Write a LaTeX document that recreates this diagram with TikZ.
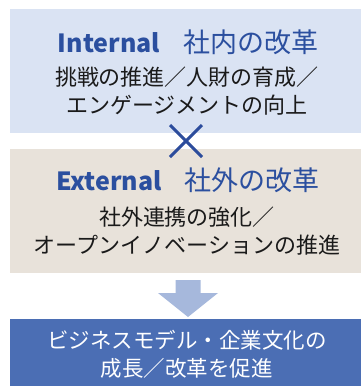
\documentclass[tikz,border=0pt]{standalone}
\usepackage{fontspec}
\usetikzlibrary{calc}
\setmainfont{Noto Sans CJK JP}
\newfontfamily\jpfont{Noto Sans CJK JP}
\definecolor{boxA}{HTML}{DAE3F3}
\definecolor{boxB}{HTML}{E8E2DA}
\definecolor{boxC}{HTML}{4B6EB4}
\definecolor{headblue}{HTML}{2B4F9F}
\definecolor{crossblue}{HTML}{2C4C9C}
\definecolor{arrowblue}{HTML}{A6B8DC}
\definecolor{bodytext}{HTML}{1A1A1A}
\newcommand\latword[1]{{\fontsize{25}{30}\selectfont\bfseries #1}}
\tikzset{
  panel/.style={draw=none, anchor=north west, minimum width=351pt, inner sep=0pt, outer sep=0pt},
  headtext/.style={text=headblue, font=\jpfont\fontsize{27}{30}\selectfont, inner sep=0pt, anchor=center},
  bodytxt/.style={text=bodytext, font=\jpfont\fontsize{22}{28}\selectfont, align=center, inner sep=0pt, anchor=center},
  whitetxt/.style={text=white, font=\jpfont\fontsize{21.5}{28}\selectfont, align=center, inner sep=0pt, anchor=center},
  crossline/.style={draw=crossblue, line width=3pt},
}
\begin{document}
\begin{tikzpicture}[x=1pt,y=-1pt]
\useasboundingbox (0,0) rectangle (361,386);
% panels
\node[panel, fill=boxA, minimum height=124pt] (p1) at (10,9) {};
\node[panel, fill=boxB, minimum height=124pt] (p2) at (10,149) {};
\node[panel, fill=boxC, minimum height=67pt] (p3) at (10,319) {};
% headings
\node[headtext] (h1) at (188,42) {\latword{Internal}\hspace{23pt}社内の改革};
\node[headtext] (h2) at (188,180) {\latword{External}\hspace{23pt}社外の改革};
% bodies
\node[bodytxt] (t1) at (187,91) {挑戦の推進／人財の育成／\\エンゲージメントの向上};
\node[bodytxt] (t2) at (187,231) {社外連携の強化／\\オープンイノベーションの推進};
\node[whitetxt] (t3) at (187,354) {ビジネスモデル・企業文化の\\成長／改革を促進};
% cross
\coordinate (c) at (186,141);
\draw[crossline] ($(c)+(-16,-16)$) -- ($(c)+(16,16)$);
\draw[crossline] ($(c)+(-16,16)$) -- ($(c)+(16,-16)$);
% arrow
\fill[arrowblue] (175.5,280) -- (200.5,280) -- (200.5,293) -- (218,293) -- (188,317) -- (158,293) -- (175.5,293) -- cycle;
\end{tikzpicture}
\end{document}
